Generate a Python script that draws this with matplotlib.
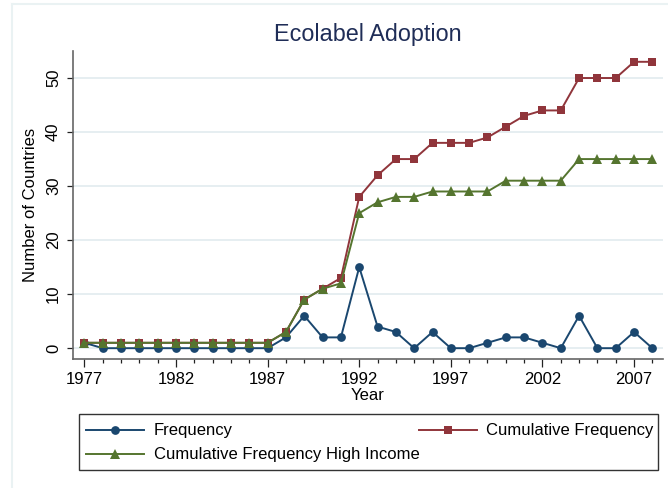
import matplotlib
matplotlib.use('Agg')
import matplotlib.pyplot as plt
from matplotlib.patches import Rectangle
from matplotlib.lines import Line2D
from matplotlib.ticker import MultipleLocator

plt.rcParams['font.family'] = ['Liberation Sans', 'DejaVu Sans']

years = list(range(1977, 2009))
frequency = [1, 0, 0, 0, 0, 0, 0, 0, 0, 0, 0, 2, 6, 2, 2, 15, 4, 3, 0, 3, 0, 0,
             1, 2, 2, 1, 0, 6, 0, 0, 3, 0]
cumulative = [1, 1, 1, 1, 1, 1, 1, 1, 1, 1, 1, 3, 9, 11, 13, 28, 32, 35, 35, 38,
              38, 38, 39, 41, 43, 44, 44, 50, 50, 50, 53, 53]
cum_high = [1, 1, 1, 1, 1, 1, 1, 1, 1, 1, 1, 3, 9, 11, 12, 25, 27, 28, 28, 29,
            29, 29, 29, 31, 31, 31, 31, 35, 35, 35, 35, 35]
xticks = [1977, 1982, 1987, 1992, 1997, 2002, 2007]
yticks = [0, 10, 20, 30, 40, 50]
labels = ['Frequency', 'Cumulative Frequency', 'Cumulative Frequency High Income']
title = 'Ecolabel Adoption'

W, H = 668, 488
fig = plt.figure(figsize=(W / 100, H / 100), dpi=100)
fig.patch.set_facecolor('white')

def fx(px):
    return px / W

def fy(py):
    return 1 - py / H

left, right, top, bottom = 72.5, 663, 51, 359
ax = fig.add_axes([fx(left), fy(bottom), fx(right) - fx(left), fy(top) - fy(bottom)])

navy = '#1A476F'
maroon = '#90353B'
green = '#55752F'

l1, = ax.plot(years, frequency, color=navy, lw=1.4, marker='o', ms=6.3,
              markeredgewidth=0, zorder=3)
l2, = ax.plot(years, cumulative, color=maroon, lw=1.4, marker='s', ms=5.8,
              markeredgewidth=0, zorder=4)
l3, = ax.plot(years, cum_high, color=green, lw=1.4, marker='^', ms=6.8,
              markeredgewidth=0, zorder=5)

ax.set_xlim(1976.35, 2008.58)
ax.set_ylim(-2.0, 55.0)
ax.set_xticks(xticks)
ax.xaxis.set_minor_locator(MultipleLocator(1))
ax.set_yticks(yticks)
ax.set_yticklabels([str(v) for v in yticks], rotation=90, va='center')

for s in ['top', 'right']:
    ax.spines[s].set_visible(False)
for s in ['left', 'bottom']:
    ax.spines[s].set_color('#666666')
    ax.spines[s].set_linewidth(1.2)

ax.grid(axis='y', color='#E4EDF0', lw=1.3)
ax.set_axisbelow(True)
ax.tick_params(axis='x', which='major', length=5.8, width=0.9, color='#222222',
               labelsize=12, pad=3.5)
ax.tick_params(axis='x', which='minor', length=3, width=0.9, color='#222222')
ax.tick_params(axis='y', which='major', length=4.3, width=0.9, color='#222222',
               labelsize=12, pad=4)

ax.set_xlabel('Year', fontsize=12, labelpad=0.5)
ax.set_ylabel('Number of Countries', fontsize=12, labelpad=6)

fig.text(fx(368), fy(35), title, fontsize=16.8, color='#1F2D57',
         ha='center', va='center')

# outer frame line (graph region)
fig.add_artist(Line2D([fx(11.5), fx(11.5)], [fy(3.5), 0], color='#EAF2F3', lw=1.5))
fig.add_artist(Line2D([fx(11.5), 1], [fy(3.5), fy(3.5)], color='#EAF2F3', lw=1.5))

# legend box
fig.add_artist(Rectangle((fx(79), fy(470)), fx(658) - fx(79), fy(414) - fy(470),
                         transform=fig.transFigure, facecolor='white',
                         edgecolor='#333333', lw=1.0, zorder=1))

def add_leg(handle, label, x, y):
    lg = fig.legend([handle], [label], loc='center left',
                    bbox_to_anchor=(fx(x), fy(y)), frameon=False,
                    borderpad=0, borderaxespad=0, handlelength=3.5,
                    handletextpad=0.55, fontsize=12)
    lg.set_zorder(5)
    return lg

add_leg(l1, labels[0], 86, 431)
add_leg(l2, labels[1], 418.5, 431)
add_leg(l3, labels[2], 86, 455)

fig.savefig('out.png', dpi=100, facecolor='white')
